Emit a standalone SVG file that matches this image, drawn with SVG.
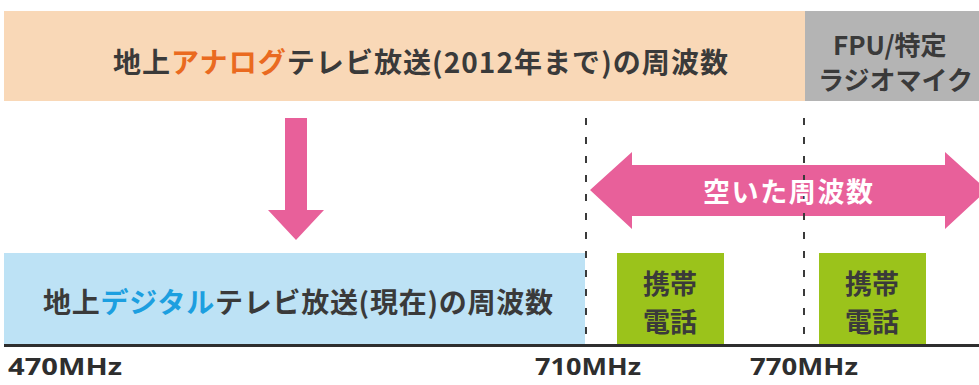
<svg xmlns="http://www.w3.org/2000/svg" width="979" height="385" viewBox="0 0 979 385">
<style>
.t{font-family:"Noto Sans CJK JP","Noto Sans",sans-serif;font-weight:bold;fill:#3a3a3a}
.w{fill:#ffffff}
.f{font-family:"Noto Sans","Noto Sans CJK JP",sans-serif;font-weight:bold;fill:#2e2e2e}
.pink{fill:#e8609a}
.dash{stroke:#3a3a3a;stroke-width:2;stroke-dasharray:7 12;fill:none}
</style>
<rect width="979" height="385" fill="#ffffff"/>
<g id="analog">
<rect x="4" y="11" width="801" height="90" fill="#f9d8b7"/>
<text class="t" x="113" y="73" font-size="28" textLength="615">地上<tspan fill="#ea6a20">アナログ</tspan>テレビ放送(2012年まで)の周波数</text>
</g>
<g id="fpu">
<rect x="805" y="11" width="174" height="90" fill="#b4b4b4"/>
<text class="t" x="833" y="55" font-size="26">FPU/特定</text>
<text class="t" x="818" y="90" font-size="26">ラジオマイク</text>
</g>
<g id="digital">
<rect x="4" y="253" width="581" height="91" fill="#bde2f5"/>
<text class="t" x="43" y="313" font-size="28" textLength="510">地上<tspan fill="#1c9fe0">デジタル</tspan>テレビ放送(現在)の周波数</text>
</g>
<g id="mobile1">
<rect x="617" y="253" width="107" height="91" fill="#9bc31b"/>
<text class="t" x="670" y="294" font-size="27" text-anchor="middle">携帯</text>
<text class="t" x="670" y="332" font-size="27" text-anchor="middle">電話</text>
</g>
<g id="mobile2">
<rect x="819" y="253" width="107" height="91" fill="#9bc31b"/>
<text class="t" x="872" y="294" font-size="27" text-anchor="middle">携帯</text>
<text class="t" x="872" y="332" font-size="27" text-anchor="middle">電話</text>
</g>
<g id="connectors">
<polygon class="pink" points="285,118 307,118 307,210 324,210 296,240 268,210 285,210"/>
<polygon class="pink" points="590,190 632,152 632,165 945,165 945,152 987,190 945,229 945,216 632,216 632,229"/>
<line class="dash" x1="586" y1="118" x2="586" y2="344"/>
<line class="dash" x1="804" y1="118" x2="804" y2="344"/>
<line x1="4" y1="345.5" x2="979" y2="345.5" stroke="#2e2e2e" stroke-width="3"/>
</g>
<g id="free">
<text class="t w" x="788" y="202" font-size="27" text-anchor="middle" textLength="170">空いた周波数</text>
</g>
<g id="axis-labels">
<text class="f" x="8" y="375" font-size="24" textLength="114" lengthAdjust="spacingAndGlyphs">470MHz</text>
<text class="f" x="535" y="375" font-size="24" textLength="106" lengthAdjust="spacingAndGlyphs">710MHz</text>
<text class="f" x="750" y="375" font-size="24" textLength="108" lengthAdjust="spacingAndGlyphs">770MHz</text>
</g>
</svg>
